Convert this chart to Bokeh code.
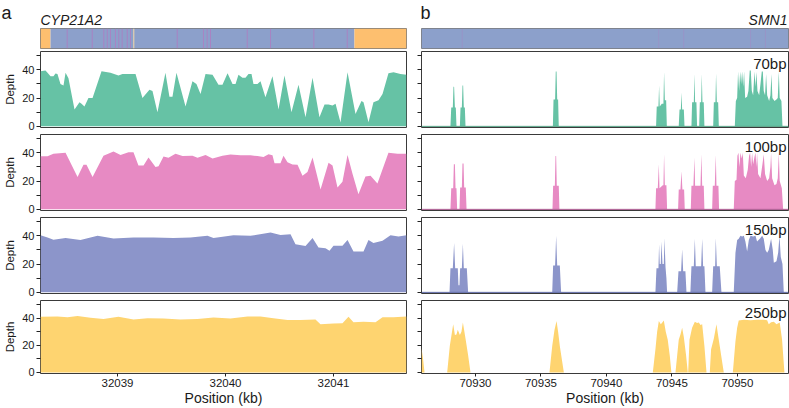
from bokeh.plotting import figure
from bokeh.models import Range1d, FixedTicker, Label, Span
from bokeh.layouts import column, row
from bokeh.embed import file_html
from bokeh.resources import INLINE
from bokeh.core.properties import value

FONT = "Liberation Sans"

# ---------------- data ----------------
LEFT_XRANGE = (32038.287, 32041.676)
RIGHT_XRANGE = (70925.88, 70953.90)
Y_RANGE = (-0.8, 53)
Y_MAJOR_TICKS = [0, 20, 40]
Y_MINOR_TICKS = [10, 30, 50]
Y_ALL_TICKS = [0, 10, 20, 30, 40, 50]
LEFT_XTICKS = [32039, 32040, 32041]
LEFT_XTICK_LABELS = ["32039", "32040", "32041"]
RIGHT_XTICKS = [70930, 70935, 70940, 70945, 70950]
RIGHT_XTICK_LABELS = ["70930", "70935", "70940", "70945", "70950"]
READ_LENGTHS = ["70bp", "100bp", "150bp", "250bp"]
PANEL_LETTERS = ["a", "b"]
GENE_NAMES = ["CYP21A2", "SMN1"]

# CYP21A2 gene track
cyp_seg_start = [32038.287, 32038.38, 32041.194]
cyp_seg_end = [32038.38, 32041.194, 32041.676]
cyp_seg_kind = ["flank", "gene", "flank"]
cyp_marks = [32038.534, 32038.766, 32038.873, 32038.905, 32038.935, 32038.981,
             32039.012, 32039.043, 32039.090, 32039.120, 32039.553, 32039.796,
             32039.830, 32039.861, 32040.201, 32040.417, 32040.818, 32041.127]
cyp_light_marks = [32039.151]
# SMN1 gene track
smn_seg_start = [70925.88]
smn_seg_end = [70953.90]
smn_seg_kind = ["gene"]
smn_marks = [70928.99, 70943.99, 70945.90, 70951.00, 70952.14]

# CYP21A2 depth
cyp_70_pos = [32038.287, 32038.333, 32038.352, 32038.380, 32038.407, 32038.426, 32038.444, 32038.472,
              32038.500, 32038.519, 32038.546, 32038.602, 32038.648, 32038.667, 32038.694, 32038.731,
              32038.769, 32038.852, 32038.935, 32039.009, 32039.046, 32039.148, 32039.167, 32039.231,
              32039.296, 32039.324, 32039.370, 32039.444, 32039.481, 32039.509, 32039.546, 32039.630,
              32039.694, 32039.731, 32039.769, 32039.815, 32039.880, 32039.935, 32039.972, 32040.019,
              32040.065, 32040.093, 32040.120, 32040.157, 32040.185, 32040.213, 32040.241, 32040.259,
              32040.296, 32040.324, 32040.370, 32040.435, 32040.491, 32040.546, 32040.611, 32040.676,
              32040.741, 32040.806, 32040.870, 32040.917, 32040.954, 32040.991, 32041.019, 32041.065,
              32041.130, 32041.204, 32041.259, 32041.278, 32041.324, 32041.370, 32041.417, 32041.454,
              32041.509, 32041.556, 32041.620, 32041.676]
cyp_70_depth = [39, 39.5, 38, 35.5, 35.5, 37.5, 37, 30,
                29, 38, 34, 12, 17, 16, 14, 20,
                20, 39, 38, 36, 37, 37, 37, 20,
                26, 25, 10, 38, 21, 21, 38, 14,
                32, 30, 23, 37, 36.5, 29.5, 29.5, 37.6,
                30, 30, 36.5, 34.5, 34.5, 37, 37, 30,
                30, 32, 20.6, 35.5, 12, 36, 10, 29.5,
                6.4, 34.5, 6.4, 15.4, 15.4, 14.7, 16, 2.8,
                38.3, 8.8, 18, 17, 3, 17, 18.5, 23,
                37.6, 38.3, 37, 36.5]

cyp_100_pos = [32038.287, 32038.352, 32038.407, 32038.519, 32038.630, 32038.685, 32038.713, 32038.769,
               32038.870, 32038.963, 32039.028, 32039.102, 32039.148, 32039.194, 32039.241, 32039.287,
               32039.352, 32039.380, 32039.426, 32039.472, 32039.537, 32039.602, 32039.694, 32039.741,
               32039.815, 32039.880, 32039.972, 32040.046, 32040.139, 32040.231, 32040.296, 32040.352,
               32040.398, 32040.435, 32040.454, 32040.509, 32040.537, 32040.574, 32040.620, 32040.667,
               32040.713, 32040.759, 32040.806, 32040.880, 32040.954, 32040.991, 32041.037, 32041.083,
               32041.130, 32041.176, 32041.231, 32041.296, 32041.343, 32041.407, 32041.509, 32041.593,
               32041.667, 32041.676]
cyp_100_depth = [37.6, 37.6, 39.3, 40, 23, 31.5, 31.5, 23,
                 38, 41, 38.5, 40.5, 40.5, 31, 31, 36.7,
                 30, 30.5, 37.4, 36.5, 39.3, 37.7, 38, 36.5,
                 38.5, 36, 38, 38.8, 38.3, 38.3, 37.7, 37,
                 39, 38.3, 32.6, 32.6, 38, 33.3, 31.7, 31.5,
                 23.8, 26.5, 36.7, 14, 33, 31, 15.5, 19.5,
                 38.5, 25.3, 10.7, 23.2, 23.8, 18.3, 40, 39.3,
                 39.3, 39.3]

cyp_150_pos = [32038.287, 32038.352, 32038.407, 32038.519, 32038.657, 32038.815, 32038.963, 32039.148,
               32039.333, 32039.519, 32039.676, 32039.833, 32039.889, 32040.074, 32040.231, 32040.417,
               32040.509, 32040.602, 32040.648, 32040.741, 32040.806, 32040.861, 32040.926, 32040.963,
               32041.000, 32041.083, 32041.130, 32041.185, 32041.278, 32041.324, 32041.370, 32041.454,
               32041.528, 32041.602, 32041.676]
cyp_150_depth = [40.5, 38.8, 37.2, 38.4, 37, 40, 38.1, 38.8,
                 38.8, 38.4, 38.8, 40, 38.4, 40.5, 40, 42.3,
                 40.7, 41.2, 34.1, 32.9, 38.4, 31.8, 31.3, 29.4,
                 33, 33, 37, 29, 29, 37, 35, 36.5,
                 40.5, 39.5, 40.5]

cyp_250_pos = [32038.287, 32038.444, 32038.537, 32038.630, 32038.750, 32038.870, 32039.009, 32039.148,
               32039.278, 32039.426, 32039.583, 32039.741, 32039.889, 32040.046, 32040.204, 32040.324,
               32040.444, 32040.574, 32040.694, 32040.833, 32040.880, 32041.000, 32041.083, 32041.139,
               32041.185, 32041.278, 32041.389, 32041.454, 32041.556, 32041.676]
cyp_250_depth = [41, 41.3, 40.7, 41.5, 40.2, 39.3, 41, 39,
                 40, 39.8, 39, 39.4, 40.5, 39.8, 41.2, 41.2,
                 40, 38.6, 38.6, 39, 35.5, 36, 36.2, 41,
                 37, 37.4, 37, 40.7, 40.7, 41.2]

# SMN1 depth
smn_70_pos = [70925.88, 70928.09, 70928.15, 70928.27, 70928.32, 70928.37, 70928.43, 70928.50, 70928.55,
              70928.81, 70928.86, 70928.96, 70929.01, 70929.06, 70929.11, 70929.19, 70929.24,
              70935.91, 70935.96, 70936.08, 70936.13, 70936.19, 70936.24, 70936.31, 70936.36,
              70943.79, 70943.84, 70943.97, 70944.02, 70944.07, 70944.23, 70944.35, 70944.40, 70944.46,
              70944.56, 70944.61,
              70945.52, 70945.58, 70945.68, 70945.73, 70945.78, 70945.91, 70945.96,
              70946.49, 70946.54, 70946.67, 70946.72, 70946.77, 70946.87, 70946.92, 70947.08, 70947.13,
              70947.23, 70947.28, 70947.33, 70947.43, 70947.48,
              70948.15, 70948.20, 70948.32, 70948.37, 70948.43, 70948.53, 70948.58,
              70949.80, 70949.88, 70949.98, 70950.05, 70950.13, 70950.21, 70950.28, 70950.36, 70950.44,
              70950.51, 70950.59, 70950.74, 70950.84, 70950.94, 70951.02, 70951.10, 70951.20, 70951.30,
              70951.38, 70951.45, 70951.53, 70951.66, 70951.76, 70951.86, 70951.94, 70952.01, 70952.11,
              70952.19, 70952.27, 70952.42, 70952.52, 70952.60, 70952.67, 70952.83, 70952.98, 70953.08,
              70953.16, 70953.23, 70953.36, 70953.44, 70953.90]
smn_70_depth = [0, 0, 13.4, 13.4, 28, 28, 13.4, 13.4, 0,
                0, 13.4, 13.4, 29, 29, 13.4, 13.4, 0,
                0, 19, 19, 38.8, 38.8, 19, 19, 0,
                0, 14, 14, 29, 14, 16, 16, 38.5, 18.5,
                18.5, 0,
                0, 12, 12, 24, 12, 12, 0,
                0, 17, 17, 37, 17, 17, 0, 0, 17,
                17, 37, 17, 17, 0,
                0, 17, 17, 37.5, 17, 17, 0,
                0, 18, 20, 38.8, 25, 38.8, 30, 38.8, 28,
                38.8, 20, 21, 25, 39.5, 39.5, 25, 22, 38.8,
                28, 38.5, 25, 22, 30, 38.8, 38.8, 25, 22,
                37, 22, 18, 22, 37, 20, 18, 19, 20,
                38.8, 20, 18, 0, 0]

smn_100_pos = [70925.88, 70928.09, 70928.15, 70928.30, 70928.35, 70928.43, 70928.48, 70928.55, 70928.60,
               70928.78, 70928.83, 70928.96, 70929.01, 70929.09, 70929.14, 70929.26, 70929.32,
               70935.88, 70935.93, 70936.06, 70936.11, 70936.16, 70936.21, 70936.36, 70936.41,
               70943.74, 70943.79, 70943.92, 70944.00, 70944.05, 70944.30, 70944.35, 70944.40, 70944.46,
               70944.58, 70944.63,
               70945.47, 70945.52, 70945.65, 70945.73, 70945.80, 70945.93, 70945.98,
               70946.44, 70946.49, 70946.64, 70946.72, 70946.77, 70947.18, 70947.25, 70947.31, 70947.43,
               70947.48,
               70948.07, 70948.12, 70948.27, 70948.35, 70948.40, 70948.55, 70948.60,
               70949.72, 70949.80, 70949.93, 70950.00, 70950.08, 70950.15, 70950.23, 70950.33, 70950.41,
               70950.49, 70950.64, 70950.79, 70950.89, 70950.97, 70951.05, 70951.12, 70951.20, 70951.30,
               70951.38, 70951.45, 70951.50, 70951.58, 70951.76, 70951.91, 70952.01, 70952.11, 70952.27,
               70952.42, 70952.52, 70952.57, 70952.65, 70952.83, 70952.98, 70953.08, 70953.16, 70953.23,
               70953.39, 70953.49, 70953.90]
smn_100_depth = [0, 0, 15, 15, 32, 32, 15, 15, 0,
                 0, 15.5, 15.5, 32.5, 32.5, 15.5, 15.5, 0,
                 0, 16.7, 16.7, 37.7, 37.7, 16.7, 16.7, 0,
                 0, 15, 15, 32, 15, 17, 17, 39, 17,
                 17, 0,
                 0, 14, 14, 27, 14, 14, 0,
                 0, 16.7, 16.7, 36.7, 16.7, 16.7, 39, 16.7, 16.7,
                 0,
                 0, 16.7, 16.7, 38.5, 16.7, 16.7, 0,
                 0, 20, 21, 38, 40, 30, 40, 36, 40,
                 24, 22, 28, 38, 40, 30, 40, 32, 37,
                 40, 30, 40, 25, 22, 32, 39, 25, 20,
                 22, 30, 40, 22, 17, 18, 22, 40, 20,
                 15, 0, 0]

smn_150_pos = [70925.88, 70928.02, 70928.09, 70928.27, 70928.37, 70928.45, 70928.65, 70928.70, 70928.78,
               70928.83, 70928.96, 70929.04, 70929.11, 70929.34, 70929.44,
               70935.86, 70935.93, 70936.08, 70936.16, 70936.24, 70936.44, 70936.54,
               70943.74, 70943.82, 70943.97, 70944.02, 70944.07, 70944.15, 70944.20, 70944.28, 70944.38,
               70944.43, 70944.51, 70944.58, 70944.63,
               70945.40, 70945.50, 70945.70, 70945.78, 70945.86, 70946.03, 70946.11,
               70946.41, 70946.49, 70946.67, 70946.75, 70946.82, 70947.23, 70947.31, 70947.38, 70947.48,
               70947.56,
               70948.07, 70948.15, 70948.30, 70948.35, 70948.43, 70948.65, 70948.78,
               70949.72, 70949.85, 70949.98, 70950.10, 70950.23, 70950.36, 70950.49, 70950.61, 70950.74,
               70950.87, 70951.00, 70951.20, 70951.38, 70951.50, 70951.71, 70951.89, 70952.01, 70952.14,
               70952.27, 70952.39, 70952.57, 70952.70, 70952.78, 70952.98, 70953.11, 70953.21, 70953.31,
               70953.44, 70953.54, 70953.90]
smn_150_depth = [0, 0, 17, 17, 35, 17, 17, 5, 5,
                 17, 17, 34.5, 17, 17, 0,
                 0, 19, 19, 40, 19, 19, 0,
                 0, 17, 17, 34, 20, 20, 36, 20, 20,
                 38.5, 18, 10, 0,
                 0, 15, 15, 30.5, 15, 15, 0,
                 0, 18.5, 18.5, 38, 18.5, 18.5, 38, 18.5, 18.5,
                 0,
                 0, 18.5, 18.5, 38.5, 18.5, 18.5, 0,
                 0, 28, 37, 38, 40, 39.5, 40, 36, 29,
                 37, 40, 39.5, 40, 36, 38, 40, 38, 30,
                 28, 30, 38, 30, 21, 22, 28, 40, 25,
                 20, 0, 0]

smn_250_pos = [70925.88, 70926.00, 70926.11,
               70927.84, 70928.04, 70928.17, 70928.30, 70928.43, 70928.55, 70928.65, 70928.81, 70928.93,
               70929.04, 70929.24, 70929.44, 70929.62,
               70935.65, 70935.86, 70936.03, 70936.19, 70936.31, 70936.44, 70936.75,
               70943.54, 70943.74, 70943.87, 70944.00, 70944.15, 70944.28, 70944.38, 70944.53, 70944.68,
               70944.84, 70944.96,
               70945.27, 70945.52, 70945.65, 70945.78, 70945.91, 70946.08, 70946.21,
               70946.24, 70946.34, 70946.54, 70946.75, 70946.92, 70947.05, 70947.18, 70947.31, 70947.48,
               70947.64,
               70947.89, 70947.99, 70948.20, 70948.40, 70948.53, 70948.65, 70948.83, 70948.96,
               70949.65, 70949.85, 70949.98, 70950.10, 70950.49, 70951.00, 70951.50, 70952.01, 70952.27,
               70952.39, 70952.57, 70952.78, 70952.98, 70953.23, 70953.41, 70953.59, 70953.90]
smn_250_depth = [18, 10, 0,
                 0, 19.5, 27.5, 35.5, 27.5, 28, 31.4, 27.5, 30,
                 36.7, 25, 12.6, 0,
                 0, 19.5, 31, 37.8, 30, 19.5, 0,
                 0, 17, 30, 37.8, 35.5, 37, 38.3, 30, 24,
                 12, 0,
                 0, 24, 28, 33, 26, 12.6, 0,
                 0, 24, 33, 37.4, 36.5, 36.7, 35, 35.5, 19.5,
                 0,
                 0, 17, 25, 35.5, 27, 19.5, 8, 0,
                 0, 23, 33, 38.3, 38.8, 38.5, 38.8, 38.8, 38.5,
                 35.5, 37, 37.4, 35.5, 36.7, 24, 0, 0]

COLORS = ["#66c2a5", "#e78ac3", "#8c95ca", "#fed470"]
BASE_COLORS = ["#4f9e80", "#a6538a", "#5a64a3", None]
TRACK_COLORS = {"flank": "#fdbf6f", "gene": "#8ca0cb"}
TEXT_COLOR = "#1a1a1a"

# ---------------- layout (pixels) ----------------
W, H = 789, 408
LW, RW = 407, 382
LB, RB = 40, 14
HEAD_H, TRACK_H = 28, 21
PANEL_H = [82, 83, 83, 111]
PANEL_TOP = [2, 3, 3, 3]
PANEL_BOTTOM = [4, 4, 4, 32]


def header_fig():
    p = figure(width=W, height=HEAD_H, output_backend="svg", toolbar_location=None,
               x_range=Range1d(0, W), y_range=Range1d(HEAD_H, 0),
               min_border=0, x_axis_location=None, y_axis_location=None)
    p.grid.visible = False
    p.outline_line_color = None
    p.border_fill_color = "white"
    p.text(x=[1, 420], y=[12, 12], text=PANEL_LETTERS, text_font=value(FONT),
           text_font_size="18px", text_baseline="alphabetic", text_align="left",
           text_color=TEXT_COLOR)
    p.text(x=[40], y=[19.5], text=[GENE_NAMES[0]], text_font=value(FONT),
           text_font_size="14px", text_font_style=value("italic"),
           text_baseline="alphabetic", text_align="left", text_color=TEXT_COLOR)
    p.text(x=[787], y=[19.5], text=[GENE_NAMES[1]], text_font=value(FONT),
           text_font_size="14px", text_font_style=value("italic"),
           text_baseline="alphabetic", text_align="right", text_color=TEXT_COLOR)
    return p


def track_fig(xr, side, starts, ends, kinds, marks, mark_alpha, light=None):
    left = side == "left"
    p = figure(width=LW if left else RW, height=TRACK_H, output_backend="svg",
               toolbar_location=None, x_range=Range1d(*xr), y_range=Range1d(0, 1),
               min_border_left=LB if left else RB, min_border_right=1,
               min_border_top=0, min_border_bottom=1,
               x_axis_location=None, y_axis_location=None)
    p.grid.visible = False
    p.border_fill_color = "white"
    p.outline_line_color = "#7a7a7a"
    p.outline_line_width = 1
    p.quad(left=starts, right=ends, bottom=0, top=1,
           fill_color=[TRACK_COLORS[k] for k in kinds], line_color=None)
    p.segment(x0=marks, x1=marks, y0=0, y1=1, line_color="#b27ac0",
              line_alpha=mark_alpha, line_width=1)
    if light:
        p.segment(x0=light, x1=light, y0=0, y1=1, line_color="#f7d9a8", line_width=1)
    return p


def depth_panel(xr, side, pos, depth, idx):
    last = idx == 3
    left = side == "left"
    p = figure(width=LW if left else RW, height=PANEL_H[idx], output_backend="svg",
               toolbar_location=None, x_range=Range1d(*xr), y_range=Range1d(*Y_RANGE),
               min_border_left=LB if left else RB, min_border_right=1,
               min_border_top=PANEL_TOP[idx], min_border_bottom=PANEL_BOTTOM[idx],
               x_axis_location="below" if last else None)
    p.grid.visible = False
    p.background_fill_color = "white"
    p.border_fill_color = "white"
    p.outline_line_color = "#3a3a3a"
    p.outline_line_width = 1
    p.varea(x=pos, y1=0, y2=depth, fill_color=COLORS[idx])
    if not left and BASE_COLORS[idx]:
        p.add_layout(Span(location=0, dimension="width", line_color=BASE_COLORS[idx],
                          line_width=1))
    ya = p.yaxis[0]
    ya.axis_line_color = None
    ya.major_tick_out = 4
    ya.major_tick_in = 0
    ya.minor_tick_out = 4
    ya.minor_tick_in = 0
    ya.major_tick_line_color = "#222222"
    ya.minor_tick_line_color = "#222222"
    if left:
        ya.ticker = FixedTicker(ticks=Y_MAJOR_TICKS, minor_ticks=Y_MINOR_TICKS)
        ya.major_label_text_font = FONT
        ya.major_label_text_font_size = "11px"
        ya.major_label_text_color = TEXT_COLOR
        ya.major_label_standoff = 2
        ya.axis_label = "Depth"
        ya.axis_label_text_font = FONT
        ya.axis_label_text_font_size = "11.5px"
        ya.axis_label_text_font_style = "normal"
        ya.axis_label_text_color = TEXT_COLOR
        ya.axis_label_standoff = 3
    else:
        ya.ticker = FixedTicker(ticks=[], minor_ticks=Y_ALL_TICKS)
        ya.major_label_standoff = 0
        p.add_layout(Label(x=xr[1], y=50.5, x_offset=-2, text=READ_LENGTHS[idx],
                           text_align="right", text_baseline="top", text_font=FONT,
                           text_font_size="15px", text_color=TEXT_COLOR))
    if last:
        xa = p.xaxis[0]
        ticks = LEFT_XTICKS if left else RIGHT_XTICKS
        labels = LEFT_XTICK_LABELS if left else RIGHT_XTICK_LABELS
        xa.ticker = FixedTicker(ticks=ticks, minor_ticks=[])
        xa.major_label_overrides = dict(zip(ticks, labels))
        xa.axis_line_color = None
        xa.major_tick_out = 3
        xa.major_tick_in = 0
        xa.minor_tick_line_color = None
        xa.major_tick_line_color = "#222222"
        xa.major_label_text_font = FONT
        xa.major_label_text_font_size = "11.5px"
        xa.major_label_text_color = TEXT_COLOR
        xa.major_label_standoff = 2
        xa.axis_label = "Position (kb)"
        xa.axis_label_text_font = FONT
        xa.axis_label_text_font_size = "14px"
        xa.axis_label_text_font_style = "normal"
        xa.axis_label_text_color = TEXT_COLOR
        xa.axis_label_standoff = 0
    return p


top_l = track_fig(LEFT_XRANGE, "left", cyp_seg_start, cyp_seg_end, cyp_seg_kind,
                  cyp_marks, 0.75, cyp_light_marks)
top_r = track_fig(RIGHT_XRANGE, "right", smn_seg_start, smn_seg_end, smn_seg_kind,
                  smn_marks, 0.3)

left_data = [(cyp_70_pos, cyp_70_depth), (cyp_100_pos, cyp_100_depth),
             (cyp_150_pos, cyp_150_depth), (cyp_250_pos, cyp_250_depth)]
right_data = [(smn_70_pos, smn_70_depth), (smn_100_pos, smn_100_depth),
              (smn_150_pos, smn_150_depth), (smn_250_pos, smn_250_depth)]

rows = [header_fig(), row(top_l, top_r)]
for i in range(4):
    pl = depth_panel(LEFT_XRANGE, "left", left_data[i][0], left_data[i][1], i)
    pr = depth_panel(RIGHT_XRANGE, "right", right_data[i][0], right_data[i][1], i)
    rows.append(row(pl, pr))

layout = column(*rows)
open("out.html", "w").write(file_html(layout, INLINE))
